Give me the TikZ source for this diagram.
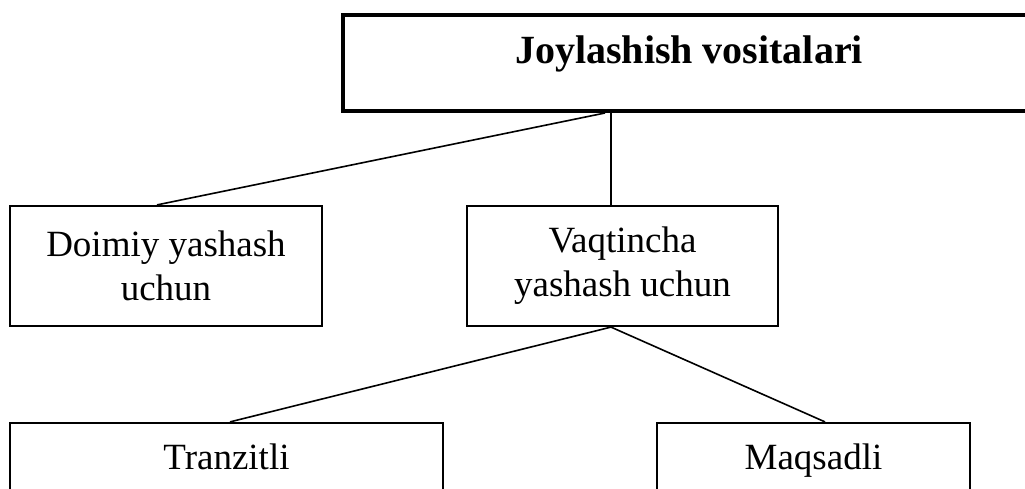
\documentclass[tikz,border=0pt]{standalone}
\usepackage{fontspec}
\setmainfont{Liberation Serif}
\begin{document}
\begin{tikzpicture}[x=1pt,y=-1pt,
  box/.style={draw=black, line width=2.2pt, inner sep=0pt, align=center,
    font=\fontsize{37pt}{44pt}\selectfont},
  topbox/.style={draw=black, line width=4pt, inner sep=0pt, align=center,
    font=\fontsize{40pt}{44pt}\selectfont\bfseries,
    minimum width=692pt, minimum height=95.5pt, text height=27pt, text depth=27pt},
  link/.style={draw=black, line width=1.6pt}]
\useasboundingbox (0,0) rectangle (1025,489);
\clip (0,0) rectangle (1025,489);
\fill[white] (0,0) rectangle (1025,489);
\node[topbox] (top) at (689,63.25) {Joylashish vositalari};
\node[box, minimum width=312pt, minimum height=120pt] (doim) at (166,266) {Doimiy yashash\\uchun};
\node[box, minimum width=311pt, minimum height=120pt] (vaqt) at (622.5,266) {Vaqtincha\\yashash uchun};
\node[box, minimum width=433pt, text height=46pt, text depth=40pt] (tran) at (226.5,466) {Tranzitli};
\node[box, minimum width=313pt, text height=46pt, text depth=40pt] (maqs) at (813.5,466) {Maqsadli};
\draw[link] ([xshift=-84pt]top.south) -- ([xshift=-9pt]doim.north);
\draw[link] ([xshift=-78pt]top.south) -- ([xshift=-11.5pt]vaqt.north);
\draw[link] ([xshift=-11.5pt]vaqt.south) -- ([xshift=3.5pt]tran.north);
\draw[link] ([xshift=-11.5pt]vaqt.south) -- ([xshift=11.5pt]maqs.north);
\end{tikzpicture}
\end{document}
